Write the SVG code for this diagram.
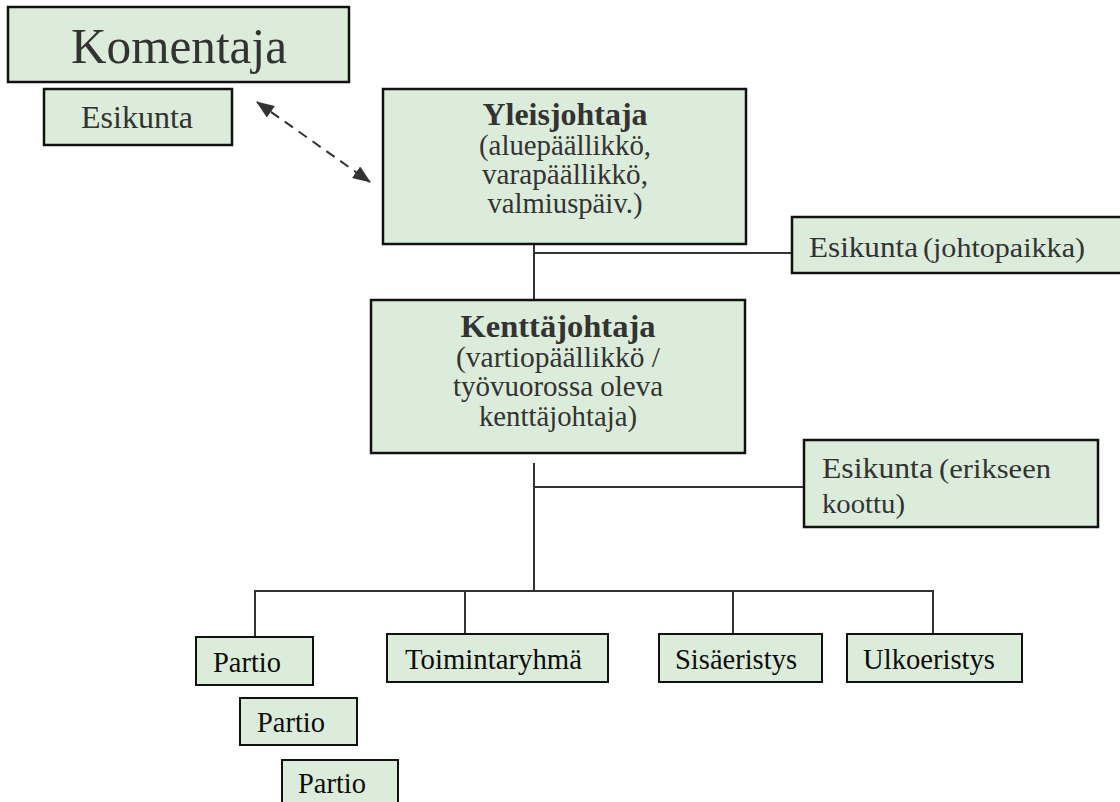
<svg xmlns="http://www.w3.org/2000/svg" width="1120" height="802" viewBox="0 0 1120 802">
  <style>
    .box { fill: #dcecda; stroke: #111; stroke-width: 2.5; }
    .box2 { fill: #dcecda; stroke: #111; stroke-width: 2; }
    text { font-family: "Liberation Serif", "Times New Roman", serif; }
    .t { fill: #333; }
    .tb { fill: #0d0d0d; }
    .h { font-weight: bold; font-size: 31px; }
    .s { font-size: 29px; }
    .b { font-size: 30px; }
    .p { font-size: 27px; }
    .conn line { stroke: #333; stroke-width: 2; fill: none; }
    .dash { stroke: #333; stroke-width: 2; stroke-dasharray: 10 7; }
  </style>
  <defs>
    <marker id="ahd" viewBox="0 0 18 14" refX="17" refY="7" markerWidth="18" markerHeight="14" markerUnits="userSpaceOnUse" orient="auto-start-reverse">
      <path d="M0,0 L18,7 L0,14 z" fill="#333"/>
    </marker>
  </defs>

  <!-- connectors -->
  <g id="connectors" class="conn">
    <line x1="534" y1="232" x2="534" y2="300"/>
    <line x1="534" y1="253" x2="792" y2="253"/>
    <line x1="534" y1="463" x2="534" y2="591"/>
    <line x1="534" y1="487" x2="804" y2="487"/>
    <line x1="255" y1="591" x2="933" y2="591"/>
    <line x1="255" y1="590" x2="255" y2="637"/>
    <line x1="465" y1="590" x2="465" y2="634"/>
    <line x1="733" y1="590" x2="733" y2="634"/>
    <line x1="933" y1="590" x2="933" y2="634"/>
    <line class="dash" x1="257" y1="102" x2="370" y2="182" marker-start="url(#ahd)" marker-end="url(#ahd)"/>
  </g>

  <g id="komentaja">
    <rect class="box" x="8" y="7" width="341" height="75"/>
    <text class="t" x="71" y="63" font-size="50" textLength="216" lengthAdjust="spacingAndGlyphs">Komentaja</text>
  </g>

  <g id="esikunta-komentaja">
    <rect class="box" x="44" y="89" width="188" height="56"/>
    <text class="t" x="81" y="128" font-size="31" textLength="112" lengthAdjust="spacingAndGlyphs">Esikunta</text>
  </g>

  <g id="yleisjohtaja">
    <rect class="box" x="383" y="89" width="363" height="155"/>
    <text class="t h" x="565" y="125" font-size="30" text-anchor="middle" textLength="165" lengthAdjust="spacingAndGlyphs">Yleisjohtaja</text>
    <text class="t s" x="565" y="155" text-anchor="middle" textLength="172" lengthAdjust="spacingAndGlyphs">(aluepäällikkö,</text>
    <text class="t s" x="565" y="184" text-anchor="middle" textLength="166" lengthAdjust="spacingAndGlyphs">varapäällikkö,</text>
    <text class="t s" x="565" y="213" text-anchor="middle" textLength="155" lengthAdjust="spacingAndGlyphs">valmiuspäiv.)</text>
  </g>

  <g id="esikunta-johtopaikka">
    <rect class="box" x="792" y="217" width="340" height="56"/>
    <text class="t b" x="809" y="257" textLength="109" lengthAdjust="spacingAndGlyphs">Esikunta</text>
    <text class="t p" x="923" y="257" textLength="162" lengthAdjust="spacingAndGlyphs">(johtopaikka)</text>
  </g>

  <g id="kenttajohtaja">
    <rect class="box" x="371" y="300" width="374" height="153"/>
    <text class="t h" x="558" y="337" text-anchor="middle" textLength="195" lengthAdjust="spacingAndGlyphs">Kenttäjohtaja</text>
    <text class="t s" x="558" y="367" text-anchor="middle" textLength="204" lengthAdjust="spacingAndGlyphs">(vartiopäällikkö /</text>
    <text class="t s" x="558" y="396" text-anchor="middle" textLength="210" lengthAdjust="spacingAndGlyphs">työvuorossa oleva</text>
    <text class="t s" x="558" y="426" text-anchor="middle" textLength="158" lengthAdjust="spacingAndGlyphs">kenttäjohtaja)</text>
  </g>

  <g id="esikunta-erikseen">
    <rect class="box" x="804" y="440" width="294" height="87"/>
    <text class="t b" x="822" y="478" textLength="111" lengthAdjust="spacingAndGlyphs">Esikunta</text>
    <text class="t p" x="939" y="478" textLength="112" lengthAdjust="spacingAndGlyphs">(erikseen</text>
    <text class="t p" x="822" y="513" textLength="83" lengthAdjust="spacingAndGlyphs">koottu)</text>
  </g>

  <g id="partio-1">
    <rect class="box2" x="196" y="637" width="117" height="48"/>
    <text class="tb b" x="213" y="672" textLength="68" lengthAdjust="spacingAndGlyphs">Partio</text>
  </g>
  <g id="partio-2">
    <rect class="box2" x="240" y="698" width="117" height="47"/>
    <text class="tb b" x="257" y="732" textLength="68" lengthAdjust="spacingAndGlyphs">Partio</text>
  </g>
  <g id="partio-3">
    <rect class="box2" x="282" y="760" width="116" height="60"/>
    <text class="tb b" x="298" y="793" textLength="68" lengthAdjust="spacingAndGlyphs">Partio</text>
  </g>

  <g id="toimintaryhma">
    <rect class="box2" x="387" y="634" width="221" height="48"/>
    <text class="tb b" x="405" y="669" textLength="177" lengthAdjust="spacingAndGlyphs">Toimintaryhmä</text>
  </g>
  <g id="sisaeristys">
    <rect class="box2" x="659" y="634" width="163" height="48"/>
    <text class="tb b" x="675" y="669" textLength="122" lengthAdjust="spacingAndGlyphs">Sisäeristys</text>
  </g>
  <g id="ulkoeristys">
    <rect class="box2" x="847" y="634" width="175" height="48"/>
    <text class="tb b" x="863" y="669" textLength="132" lengthAdjust="spacingAndGlyphs">Ulkoeristys</text>
  </g>
</svg>
